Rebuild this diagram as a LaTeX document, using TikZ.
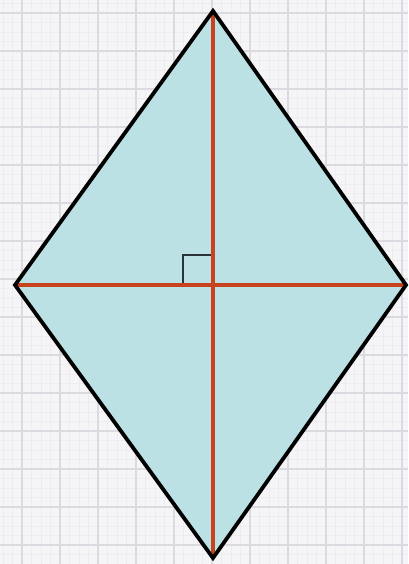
\documentclass[tikz,border=0pt]{standalone}
\definecolor{paper}{RGB}{245,245,248}
\definecolor{gridmaj}{RGB}{218,218,224}
\definecolor{gridmin}{RGB}{237,237,241}
\definecolor{fillc}{RGB}{187,225,229}
\definecolor{diag}{RGB}{200,66,30}
\definecolor{mark}{RGB}{40,50,55}
\tikzset{
  side/.style={draw=black, line width=3.8pt, line join=miter},
  diagline/.style={draw=diag, line width=3.8pt},
  rightmark/.style={draw=mark, line width=1.4pt},
}
\begin{document}
\begin{tikzpicture}[x=1pt,y=-1pt]
\useasboundingbox (0,0) rectangle (408,564);
\fill[paper] (0,0) rectangle (408,564);
\foreach \i in {0,...,45} {
  \draw[gridmin, line width=0.6pt] ({3+9.5*\i},0) -- ({3+9.5*\i},564);
}
\foreach \i in {0,...,60} {
  \draw[gridmin, line width=0.6pt] (0,{3.5+9.5*\i}) -- (408,{3.5+9.5*\i});
}
\foreach \i in {0,...,11} {
  \draw[gridmaj, line width=1.2pt] ({22+38*\i},0) -- ({22+38*\i},564);
}
\foreach \i in {0,...,15} {
  \draw[gridmaj, line width=1.2pt] (0,{13+38*\i}) -- (408,{13+38*\i});
}
\coordinate (T) at (213,11);
\coordinate (L) at (15,285);
\coordinate (R) at (406,285);
\coordinate (B) at (213,558);
\coordinate (O) at (213,285);
\fill[fillc] (T) -- (R) -- (B) -- (L) -- cycle;
\draw[rightmark] (183,284) -- (183,255) -- (213,255);
\draw[diagline] (L) -- (R);
\draw[diagline] (T) -- (B);
\draw[side] (T) -- (R) -- (B) -- (L) -- cycle;
\end{tikzpicture}
\end{document}
